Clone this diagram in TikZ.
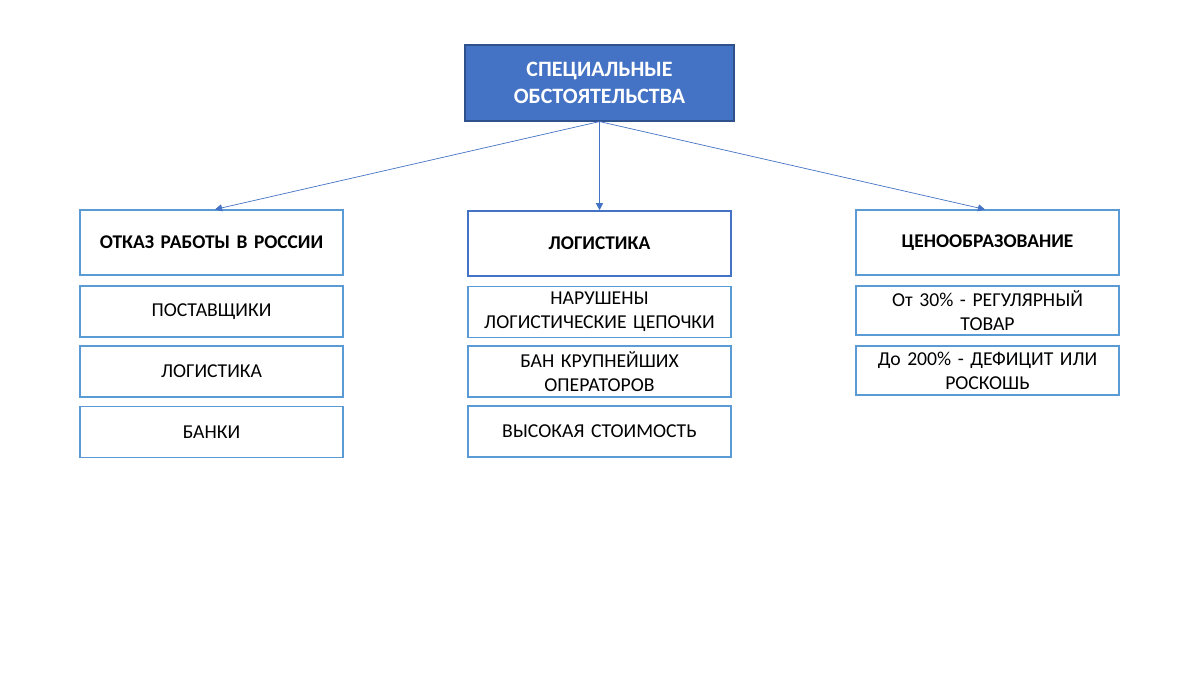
\documentclass[tikz,border=0pt]{standalone}
\usepackage{fontspec}
\setmainfont{Carlito}
\usetikzlibrary{arrows.meta,positioning}
\definecolor{topfill}{HTML}{4472C4}
\definecolor{topline}{HTML}{2F528F}
\definecolor{boxline}{HTML}{5B9BD5}
\definecolor{linkline}{HTML}{4472C4}

\begin{document}
\begin{tikzpicture}[
    x=0.025cm, y=-0.025cm,
    box/.style={rectangle, draw=boxline, line width=0.8pt, minimum width=6.575cm,
                minimum height=1.275cm, inner sep=2pt, text width=6.3cm,
                align=center, font=\fontsize{14}{17}\selectfont},
    head/.style={box, minimum height=1.625cm, font=\fontsize{13.8}{17}\selectfont\bfseries},
    topbox/.style={rectangle, draw=topline, fill=topfill, line width=0.8pt,
                   minimum width=6.725cm, minimum height=1.9cm, align=center,
                   text=white, font=\fontsize{15.6}{19.5}\selectfont\bfseries},
    arrow/.style={-{Triangle[length=5pt,width=5pt]}, draw=linkline, line width=0.5pt}
]
\useasboundingbox (0,0) rectangle (1200,675);
% top
\node[topbox] (top) at (599.5, 83) {СПЕЦИАЛЬНЫЕ\\ОБСТОЯТЕЛЬСТВА};
% headers
\node[head] (h1) at (211.5, 242.5) {ОТКАЗ РАБОТЫ В РОССИИ};
\node[head, draw=topfill, line width=1.1pt] (h2) at (599.5, 243.5) {ЛОГИСТИКА};
\node[head] (h3) at (987.5, 242.5) {ЦЕНООБРАЗОВАНИЕ};
% left column
\node[box] (a1) at (211.5, 311.5) {ПОСТАВЩИКИ};
\node[box] (a2) at (211.5, 371.5) {ЛОГИСТИКА};
\node[box] (a3) at (211.5, 432) {БАНКИ};
% middle column
\node[box] (b1) at (599.5, 312) {НАРУШЕНЫ\\ЛОГИСТИЧЕСКИЕ ЦЕПОЧКИ};
\node[box] (b2) at (599.5, 371.5) {БАН КРУПНЕЙШИХ\\ОПЕРАТОРОВ};
\node[box] (b3) at (599.5, 431.5) {ВЫСОКАЯ СТОИМОСТЬ};
% right column
\node[box, minimum height=1.225cm] (c1) at (987.5, 310.5) {От 30\% - РЕГУЛЯРНЫЙ\\ТОВАР};
\node[box, minimum height=1.225cm] (c2) at (987.5, 370.5) {До 200\% - ДЕФИЦИТ ИЛИ\\РОСКОШЬ};
% links
\draw[arrow] (top.south) -- ([xshift=3.5*0.025cm]h1.north);
\draw[arrow] (top.south) -- (h2.north);
\draw[arrow] (top.south) -- ([xshift=-2.5*0.025cm]h3.north);
\end{tikzpicture}
\end{document}
